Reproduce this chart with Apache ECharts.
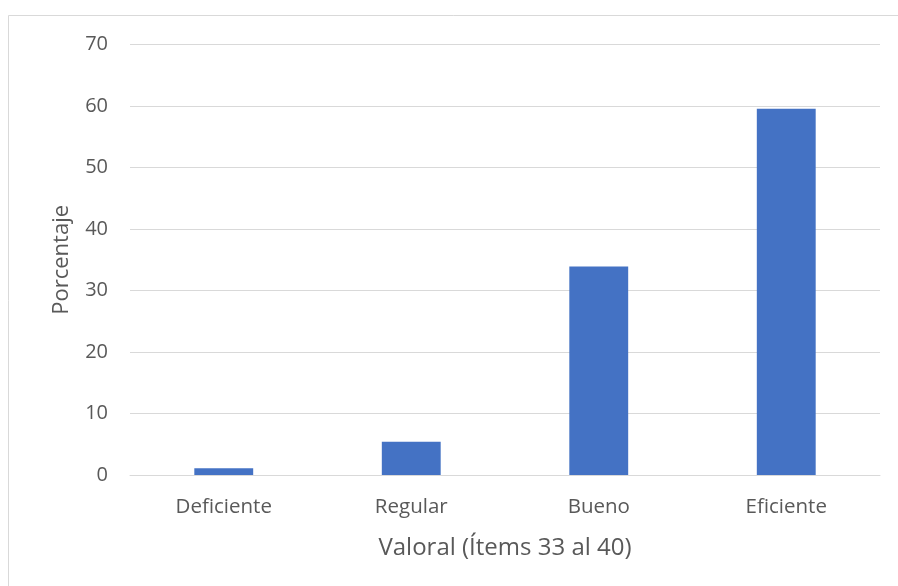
<!DOCTYPE html>
<html><head><meta charset="utf-8">
<script src="https://cdn.jsdelivr.net/npm/echarts@6/dist/echarts.min.js"></script>
<style>html,body{margin:0;padding:0;background:#fff}#c{width:898px;height:586px}</style>
</head><body><div id="c"></div>
<script>
var categories = ['Deficiente', 'Regular', 'Bueno', 'Eficiente'];
var values = [1.1, 5.4, 33.9, 59.6];
var yTicks = { min: 0, max: 70, interval: 10 };
var xTitle = 'Valoral (Ítems 33 al 40)';
var yTitle = 'Porcentaje';

var FONT = '"Open Sans", sans-serif';
var chart = echarts.init(document.getElementById('c'), null, { renderer: 'canvas' });
chart.setOption({
  animation: false,
  backgroundColor: '#fff',
  graphic: [
    { type: 'line', shape: { x1: 8.5, y1: 15.5, x2: 898, y2: 15.5 }, style: { stroke: '#d9d9d9', lineWidth: 1 } },
    { type: 'line', shape: { x1: 8.5, y1: 15.5, x2: 8.5, y2: 586 }, style: { stroke: '#d9d9d9', lineWidth: 1 } }
  ],
  grid: { left: 130, right: 18, top: 44.7, bottom: 111, containLabel: false },
  xAxis: {
    type: 'category', data: categories,
    axisLine: { show: true, lineStyle: { color: '#d9d9d9', width: 1 } },
    axisTick: { show: false },
    axisLabel: { color: '#595959', fontSize: 20.5, fontFamily: FONT, margin: 22 },
    name: xTitle, nameLocation: 'middle', nameGap: 61,
    nameTextStyle: { color: '#595959', fontSize: 24, fontFamily: FONT }
  },
  yAxis: {
    type: 'value', min: yTicks.min, max: yTicks.max, interval: yTicks.interval,
    axisLine: { show: false }, axisTick: { show: false },
    splitLine: { lineStyle: { color: '#d9d9d9', width: 1 } },
    axisLabel: { color: '#595959', fontSize: 20, fontFamily: FONT, margin: 22 },
    name: yTitle, nameLocation: 'middle', nameGap: 57, nameRotate: 90,
    nameTextStyle: { color: '#595959', fontSize: 22, fontFamily: FONT }
  },
  series: [{
    type: 'bar', data: values, barWidth: '31.4%',
    itemStyle: { color: '#4472c4' }
  }]
});
</script></body></html>
